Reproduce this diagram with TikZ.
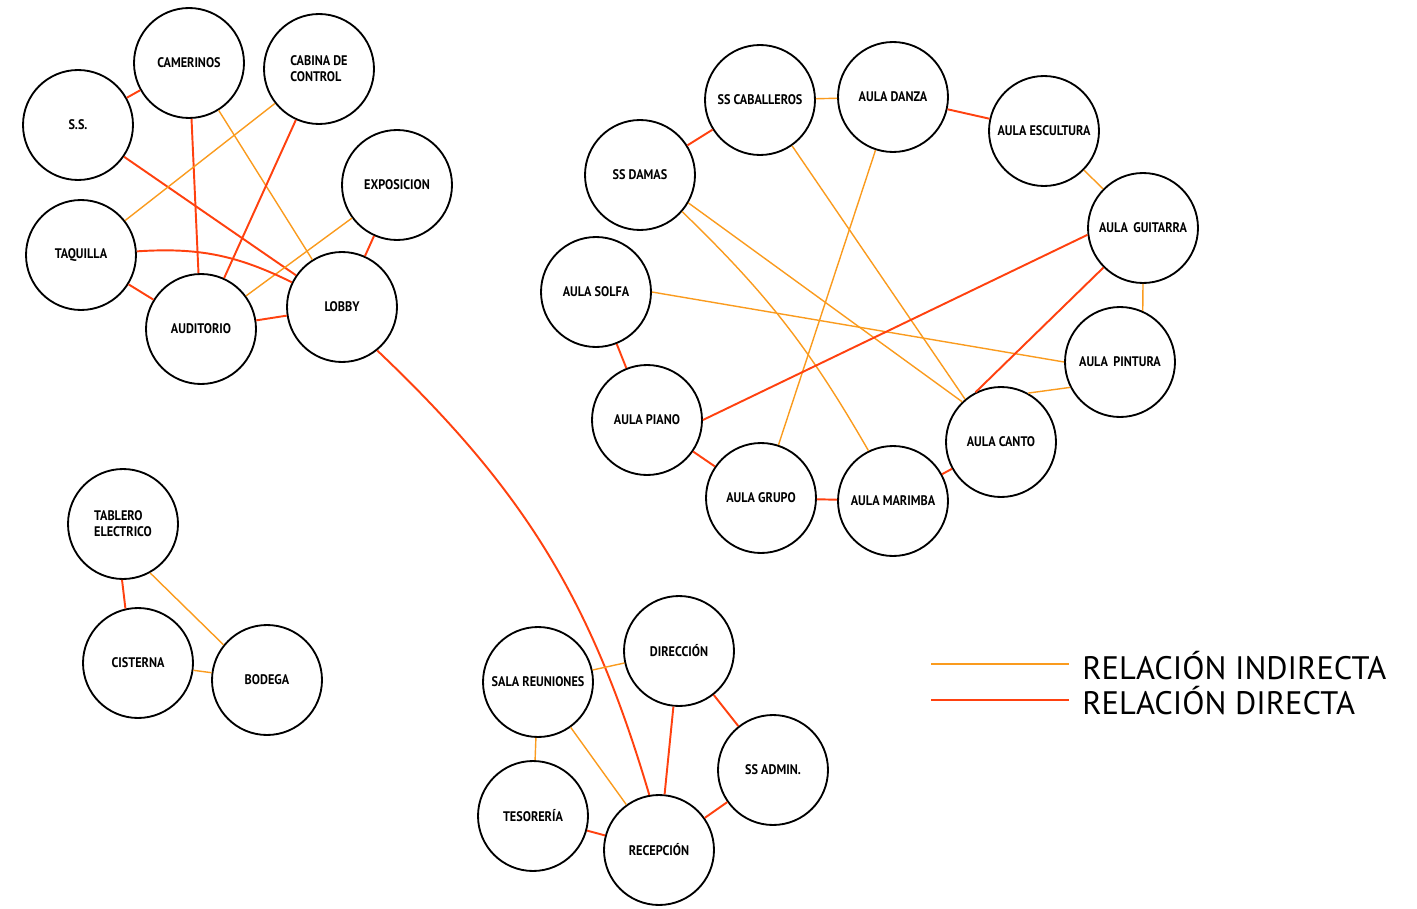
\documentclass[tikz,border=0pt]{standalone}
\usepackage{fontspec}
\setmainfont{PT Sans}
\newfontfamily\roomfont{PT Sans}[FakeStretch=0.88]
\newfontfamily\keyfont{PT Sans}
\definecolor{indirecta}{RGB}{250,155,30}
\definecolor{directa}{RGB}{255,65,15}

\begin{document}
\begin{tikzpicture}[
      x=0.02cm, y=-0.02cm,
      room/.style={draw, circle, line width=1.05pt, minimum size=2.2cm, inner sep=0pt,
                   font=\roomfont\bfseries\fontsize{7.9}{9.2}\selectfont, align=center},
      ind/.style={indirecta, line width=0.8pt},
      dir/.style={directa, line width=1.1pt},
      key/.style={anchor=base west, inner sep=0pt, font=\keyfont\fontsize{18.5}{20}\selectfont},
    ]
    \useasboundingbox (0,0) rectangle (1417,909);
    % teatro
    \node[room] (cam) at (189,63) {CAMERINOS};
    \node[room, align=left] (cab) at (319,69) {CABINA DE\\CONTROL};
    \node[room] (ss) at (78,125) {S.S.};
    \node[room] (expo) at (397,185) {EXPOSICION};
    \node[room] (taq) at (81,255) {TAQUILLA};
    \node[room] (aud) at (201,329) {AUDITORIO};
    \node[room] (lob) at (342,307) {LOBBY};
    % aulas
    \node[room] (ssc) at (760,100) {SS CABALLEROS};
    \node[room] (dan) at (893,97) {AULA DANZA};
    \node[room] (esc) at (1044,131) {AULA ESCULTURA};
    \node[room] (ssd) at (640,175) {SS DAMAS};
    \node[room] (gui) at (1143,228) {AULA\, GUITARRA};
    \node[room] (sol) at (596,292) {AULA SOLFA};
    \node[room] (pin) at (1120,362) {AULA\, PINTURA};
    \node[room] (pia) at (647,420) {AULA PIANO};
    \node[room] (can) at (1001,442) {AULA CANTO};
    \node[room] (gru) at (761,498) {AULA GRUPO};
    \node[room] (mar) at (893,501) {AULA MARIMBA};
    % servicios
    \node[room, align=left] (tab) at (123,524) {TABLERO\\ELECTRICO};
    \node[room] (cis) at (138,663) {CISTERNA};
    \node[room] (bod) at (267,680) {BODEGA};
    % administracion
    \node[room] (sal) at (538,682) {SALA REUNIONES};
    \node[room] (dir) at (679,651) {DIRECCIÓN};
    \node[room] (ssa) at (773,770) {SS ADMIN.};
    \node[room] (tes) at (533,816) {TESORERÍA};
    \node[room] (rec) at (659,850) {RECEPCIÓN};
    % relaciones teatro
    \draw[dir] (ss) -- (cam);
    \draw[dir] (ss) -- (lob);
    \draw[dir] (cam) -- (aud);
    \draw[ind] (cam) -- (lob);
    \draw[ind] (cab) -- (taq);
    \draw[dir] (cab) -- (aud);
    \draw[ind] (expo) -- (aud);
    \draw[dir] (expo) -- (lob);
    \draw[dir] (taq) to[bend left=15] (lob);
    \draw[dir] (taq) -- (aud);
    \draw[dir] (aud) -- (lob);
    \draw[dir] (lob.-51) to[bend left=15] (rec.100);
    % relaciones aulas
    \draw[ind] (ssc) -- (dan);
    \draw[dir] (dan) -- (esc);
    \draw[ind] (esc) -- (gui);
    \draw[ind] (gui.south) -- (pin.66);
    \draw[ind] (pin.207) -- (can.61);
    \draw[dir] (can) -- (mar);
    \draw[dir] (mar) -- (gru);
    \draw[dir] (gru) -- (pia);
    \draw[dir] (pia) -- (sol);
    \draw[dir] (ssd) -- (ssc);
    \draw[ind] (ssc.305) -- (can.130);
    \draw[ind] (dan) -- (gru);
    \draw[ind] (ssd.330) -- (can.134);
    \draw[ind] (ssd.319) to[bend left=8] (mar.116);
    \draw[ind] (sol.east) -- (pin.west);
    \draw[dir] (gui.187) -- (pia.east);
    \draw[dir] (gui.225) -- (can.117);
    % relaciones servicios
    \draw[dir] (tab.269) -- (cis.103);
    \draw[ind] (tab.299) -- (bod.141);
    \draw[ind] (cis) -- (bod);
    % relaciones administracion
    \draw[ind] (sal) -- (dir);
    \draw[ind] (sal) -- (tes);
    \draw[ind] (sal) -- (rec);
    \draw[dir] (dir) -- (rec);
    \draw[dir] (dir) -- (ssa);
    \draw[dir] (ssa) -- (rec);
    \draw[dir] (tes) -- (rec);
    % leyenda
    \coordinate (ka) at (931,664);
    \coordinate (kb) at (1069,664);
    \coordinate (kc) at (931,700);
    \coordinate (kd) at (1069,700);
    \draw[ind, line width=1.6pt] (ka) -- (kb);
    \draw[dir, line width=1.6pt] (kc) -- (kd);
    \node[key] (kind) at (1082,679) {RELACIÓN INDIRECTA};
    \node[key] (kdir) at (1082,714) {RELACIÓN DIRECTA};
  \end{tikzpicture}
\end{document}
